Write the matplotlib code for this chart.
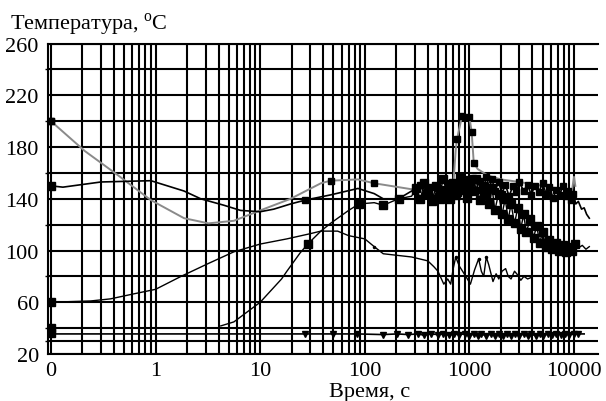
import matplotlib
matplotlib.use("Agg")

import matplotlib.pyplot as plt
from matplotlib.ticker import FixedLocator, LogLocator, NullFormatter

plt.rcParams["font.family"] = ["Liberation Serif", "DejaVu Serif"]
plt.rcParams["mathtext.fontset"] = "custom"
plt.rcParams["mathtext.rm"] = "Liberation Serif"

# ---- data (time in s, temperature in deg C) ----
x_ticks = [0.1, 1, 10, 100, 1000, 10000]
x_tick_labels = ["0", "1", "10", "100", "1000", "10000"]
y_ticks = [20, 60, 100, 140, 180, 220, 260]
y_minor = [30, 40, 80, 120, 160, 200, 240]

# gray curve, starts at 200
gray_t = [0.1, 0.21, 0.44, 0.9, 1.87, 3.2, 5.6, 10, 19.5, 38, 47, 86, 123,
          210, 300, 420, 550, 700, 740, 760, 850, 1000, 1050, 1100, 1200,
          1500, 2000, 3000, 5000, 7000, 8500, 9500, 10000, 10300]
gray_T = [200, 177, 158, 139, 125, 121, 123, 131, 140, 152, 154, 155, 152,
          149, 147, 148, 146, 150, 178, 186, 204, 203, 192, 168, 163,
          158, 155, 153, 150, 148, 140, 145, 157, 150]

# black curve, starts at 150
a_t = [0.1, 0.13, 0.3, 0.9, 1.87, 2.7, 4.5, 6.5, 10, 13.5, 19.5, 27, 47, 86,
       123, 150, 210, 280, 300, 340, 380, 420, 460, 500, 540, 580, 620, 660,
       700, 760, 820, 880, 940, 1000, 1080, 1160, 1250, 1350, 1450, 1550,
       1650, 1750, 1900, 2050, 2200, 2400, 2600, 2800, 3000, 3300, 3600,
       3900, 4200, 4600, 5000, 5400, 5800, 6300, 6800, 7300, 7800, 8300,
       8800, 9300, 9800, 10400, 11000, 11800, 12500, 13200, 14000]
a_T = [150, 149, 153, 154, 146, 140, 135, 131, 130, 132, 136, 139, 143, 148,
       144, 140, 140, 146, 146, 151, 143, 149, 141, 148, 139, 146, 152, 144,
       150, 142, 153, 146, 155, 148, 156, 147, 154, 145, 157, 149,
       155, 146, 153, 144, 151, 142, 150, 145, 153, 146, 151,
       143, 150, 145, 152, 144, 149, 141, 147, 143, 150, 142,
       146, 139, 144, 136, 138, 132, 133, 128, 125]

# black curve, starts at 60
b_t = [0.1, 0.24, 0.37, 0.62, 1.0, 1.75, 3.2, 5.6, 10, 18, 30, 38, 55, 70,
       100, 123, 150, 280, 400, 457, 500, 569, 620, 662, 700, 740, 800, 866,
       940, 1022, 1120, 1225, 1300, 1370, 1450, 1530, 1680, 1800, 1910, 2050,
       2220, 2350, 2500, 2700, 2900, 3100, 3320, 3600, 3860]
b_T = [60, 61, 62.6, 66.5, 70, 80, 90, 99, 105, 109, 113, 115, 115, 111.5,
       109, 103, 97.5, 95, 92, 87.5, 84, 74, 78, 74, 86, 95, 88, 83.6,
       79, 74, 85, 93.6, 84, 80, 95, 89, 76, 82, 78, 84,
       86, 80, 78, 84, 81, 77, 80, 78, 79]

# black curve with square markers, rises from 40
c_t = [4.2, 5.6, 10, 16, 18, 24, 28.5, 38, 47, 70, 88, 123, 150, 210, 280,
       310, 340, 370, 400, 440, 480, 520, 560, 600, 650, 700, 760, 820, 880,
       940, 1000, 1080, 1160, 1250, 1350, 1450, 1550, 1650, 1750, 1900, 2050,
       2200, 2350, 2500, 2700, 2900, 3100, 3300, 3500, 3800, 4100, 4400,
       4700, 5000, 5400, 5800, 6200, 6700, 7200, 7800, 8400, 9000, 9600,
       10200, 11000, 12000, 13000, 14000]
c_T = [41.7, 44.8, 60, 78, 84, 98, 105, 115, 121, 131, 136, 137, 135, 140, 142,
       148, 140, 152, 145, 138, 150, 143, 155, 147, 140, 152, 145, 157, 148,
       141, 153, 146, 155, 139, 150, 143, 136, 148, 131, 144, 128,
       140, 124, 136, 121, 133, 117, 128, 114, 124, 110, 119,
       106, 114, 103, 108, 101, 106, 100, 104, 99, 103, 100,
       105, 102, 104, 101, 103]

# flat curve near 35
d_t = [0.1, 27, 50, 85, 148, 205, 260, 320, 370, 430, 500, 560, 640, 720,
       800, 900, 1000, 1100, 1200, 1300, 1450, 1600, 1750, 1900, 2100, 2300,
       2500, 2750, 3000, 3300, 3600, 3900, 4300, 4700, 5100, 5600, 6200,
       6800, 7500, 8200, 9000, 10000, 11000, 12500]
d_T = [35.5, 35.5, 35.5, 35.5, 35, 35.5, 35, 35.5, 34.5, 35.5, 35, 35.5, 34.5, 35.5,
       35, 35.5, 34, 35.5, 34, 35.5, 34, 35.5, 34, 35.5, 34, 35.5,
       34, 35.5, 34, 35.5, 34, 35.5, 34, 35.5, 34, 35.5, 35,
       35.5, 35, 35.5, 35, 35.5, 35.5, 35.5]

# single points at t = 0 (plotted at 0.1 s)
start_t = [0.1, 0.1, 0.1, 0.1]
start_T = [150, 60, 40, 36]

fig = plt.figure(figsize=(6.06, 4.02), dpi=100)
ax = fig.add_axes([0.080, 0.117, 0.907, 0.772])
ax.set_xscale("log")
ax.set_xlim(0.0946, 17000)
ax.set_ylim(20, 260)

# grid: every 1..9 per decade, every 20 deg plus 30
ax.xaxis.set_major_locator(FixedLocator(x_ticks))
ax.xaxis.set_minor_locator(LogLocator(base=10, subs=range(2, 10), numticks=20))
ax.xaxis.set_minor_formatter(NullFormatter())
ax.set_xticklabels(x_tick_labels)
ax.yaxis.set_major_locator(FixedLocator(y_ticks))
ax.yaxis.set_minor_locator(FixedLocator(y_minor))
ax.grid(True, which="both", color="black", linewidth=1.5)
ax.set_axisbelow(True)
for s in ax.spines.values():
    s.set_linewidth(1.5)
ax.spines["right"].set_visible(False)

ax.tick_params(axis="x", which="both", length=0, pad=5, labelsize=16)
ax.tick_params(axis="y", which="major", length=0, pad=7, labelsize=16)
ax.tick_params(axis="y", which="minor", length=2, width=1)

# curves
ax.plot(gray_t, gray_T, color="#8a8a8a", lw=1.4, zorder=3,
        marker="s", ms=5, mfc="black", mec="black",
        markevery=[0, 10, 12, 19, 20, 21, 22, 23])
ax.plot(d_t, d_T, color="black", lw=1.2, zorder=4,
        marker="v", ms=4, markevery=list(range(1, len(d_t) - 1)))
ax.plot(b_t, b_T, color="black", lw=1.0, zorder=4,
        marker=".", ms=3, markevery=[15, 25, 31, 34])
ax.plot(a_t, a_T, color="black", lw=1.2, zorder=5,
        marker="s", ms=5, markevery=[11] + list(range(18, len(a_t) - 6)))
ax.plot(c_t, c_T, color="black", lw=1.0, zorder=5,
        marker="s", ms=6, markevery=[6, 10, 12, 13] + list(range(15, len(c_t) - 4)))
ax.plot(start_t, start_T, ls="none", marker="s", ms=6, color="black", zorder=6)
ax.plot([0.1], [200], ls="none", marker="s", ms=5, color="black", zorder=6)

fig.text(0.016, 0.938, "Температура, $^{\\rm o}$C", fontsize=16, va="center")
fig.text(0.61, 0.024, "Время, с", fontsize=16, ha="center", va="center")

fig.savefig("out.png", dpi=100)
plt.close(fig)
